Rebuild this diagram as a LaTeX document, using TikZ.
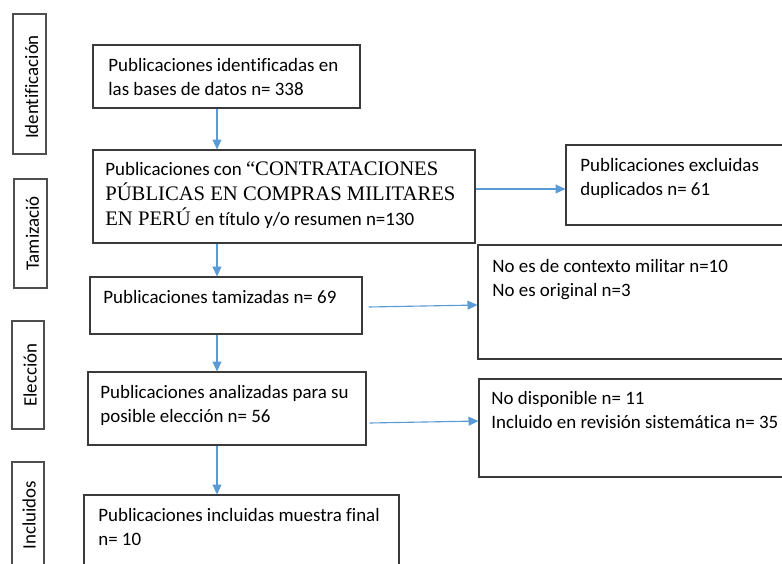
\documentclass[tikz,border=0pt]{standalone}
\usepackage{fontspec}
\setmainfont{Carlito}[Ligatures=NoCommon]
\newfontfamily\tnr{Liberation Serif}
\usepackage{xcolor}
\usetikzlibrary{arrows.meta,fit,calc}
\definecolor{azul}{HTML}{5B9BD5}
\definecolor{borde}{HTML}{3A3A3A}

\tikzset{
  caja/.style={draw=borde, line width=0.6pt, inner sep=0pt},
  etapa/.style={draw=borde!90, line width=0.6pt, inner sep=0pt},
  texto/.style={anchor=north west, inner sep=0pt, align=left, font=\fontsize{11}{14}\selectfont},
  rotulo/.style={rotate=90, inner sep=0pt, font=\fontsize{11}{14}\selectfont},
  flecha/.style={draw=azul, line width=0.65pt, -{Triangle[length=5.8pt,width=5.2pt]}}
}

\begin{document}
\begin{tikzpicture}[x=0.581pt,y=-0.581pt]
 	\useasboundingbox (0,0) rectangle (782,563);
 	\clip (0,0) rectangle (782,563);
 	% etapas
 	\node[etapa, fit={(13,14) (46,154)}] (e1) {};
 	\node[etapa, fit={(14,179) (47,288)}] (e2) {};
 	\node[etapa, fit={(12,321) (44,429)}] (e3) {};
 	\node[etapa, fit={(12,462) (44,580)}] (e4) {};
 	\node[rotulo] (l1) at ($(e1.center)+(2,3)$) {Identificación};
 	\node[rotulo] (l2) at ($(e2.center)+(2,0)$) {Tamizació};
 	\node[rotulo] (l3) at ($(e3.center)+(2,0)$) {Elección};
 	\node[rotulo] (l4) at (29,515) {Incluidos};
 	% cajas principales
 	\node[caja, fit={(93,45) (360,108)}] (b1) {};
 	\node[caja, fit={(93,150) (475,243)}] (b2) {};
 	\node[caja, fit={(90,277) (362,334)}] (b3) {};
 	\node[caja, fit={(88,372) (366,445)}] (b4) {};
 	\node[caja, fit={(84,495) (399,580)}] (b5) {};
 	% cajas de exclusion
 	\node[caja, fit={(566,145) (790,225)}] (r1) {};
 	\node[caja, fit={(478,245) (790,359)}] (r2) {};
 	\node[caja, fit={(479,379) (790,477)}] (r3) {};
 	% textos
 	\node[texto] (t1) at (108,58) {Publicaciones identificadas en\\las bases de datos n= 338};
 	\node[texto, font=\fontsize{11}{14.5}\selectfont] (t2) at (105,161) {Publicaciones con {\tnr\fontsize{12}{14.5}\selectfont “CONTRATACIONES}\\{\tnr\fontsize{12}{14.5}\selectfont PÚBLICAS EN COMPRAS MILITARES}\\{\tnr\fontsize{12}{14.5}\selectfont EN PERÚ} en título y/o resumen n=130};
 	\node[texto] (t3) at (580,158) {Publicaciones excluidas\\duplicados n= 61};
 	\node[texto] (t4) at (103,290) {Publicaciones tamizadas n= 69};
 	\node[texto] (t5) at (492,259) {No es de contexto militar n=10\\No es original n=3};
 	\node[texto] (t6) at (100,385) {Publicaciones analizadas para su\\posible elección n= 56};
 	\node[texto] (t7) at (491,391) {No disponible n= 11\\Incluido en revisión sistemática n= 35};
 	\node[texto] (t8) at (98,508) {Publicaciones incluidas muestra final\\n= 10};
 	% flechas
 	\coordinate (eje) at (217,0);
 	\coordinate (f1) at (0,189);
 	\draw[flecha] (b1.south -| eje) -- (b2.north -| eje);
 	\draw[flecha] (b2.south -| eje) -- (b3.north -| eje);
 	\draw[flecha] (b3.south -| eje) -- (b4.north -| eje);
 	\draw[flecha] (b4.south -| eje) -- (b5.north -| eje);
 	\draw[flecha] (b2.east |- f1) -- (r1.west |- f1);
 	\draw[flecha] ($(b3.east)+(6,1.5)$) -- ($(r2.west)+(0,3)$);
 	\draw[flecha] ($(b4.east)+(3,14.5)$) -- ($(r3.west)+(0,-7)$);
\end{tikzpicture}
\end{document}
